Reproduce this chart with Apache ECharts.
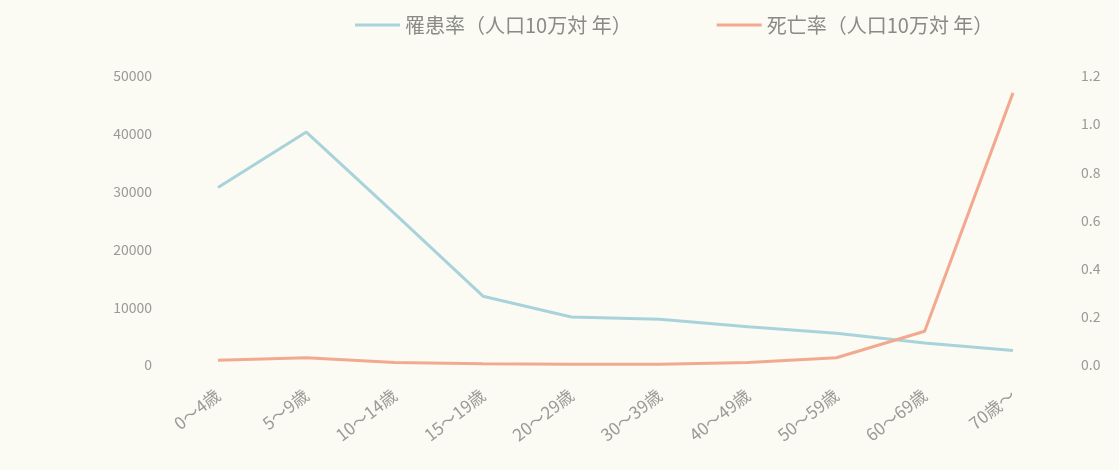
<!DOCTYPE html>
<html><head><meta charset="utf-8">
<script src="https://cdn.jsdelivr.net/npm/echarts@6/dist/echarts.min.js"></script>
<style>html,body{margin:0;padding:0;background:#fbfbf3;}#c{width:1119px;height:470px;}</style>
</head><body><div id="c"></div>
<script>
const categories = ['0～4歳','5～9歳','10～14歳','15～19歳','20～29歳','30～39歳','40～49歳','50～59歳','60～69歳','70歳～'];
const incidenceName = '罹患率（人口10万対 年）';
const mortalityName = '死亡率（人口10万対 年）';
const incidence = [30700, 40300, 26200, 11900, 8300, 7900, 6600, 5500, 3800, 2500];
const mortality = [0.02, 0.03, 0.01, 0.005, 0.003, 0.003, 0.01, 0.03, 0.14, 1.13];
const leftTicks = {min: 0, max: 50000, interval: 10000};
const rightTicks = {min: 0, max: 1.2, interval: 0.2};

const chart = echarts.init(document.getElementById('c'));
const font = '"Noto Sans CJK JP", "Noto Sans", sans-serif';
chart.setOption({
  backgroundColor: '#fbfbf3',
  animation: false,
  textStyle: {fontFamily: font},
  legend: {
    left: 350, top: 10,
    itemWidth: 45, itemHeight: 14, itemGap: 85,
    icon: 'path://M0,6 L45,6 L45,9 L0,9 Z',
    textStyle: {fontSize: 20, color: '#8a8a86', fontFamily: font},
    data: [incidenceName, mortalityName]
  },
  grid: {left: 218, right: 106, top: 76, bottom: 105},
  xAxis: {
    type: 'category', data: categories, boundaryGap: false,
    axisLine: {show: false}, axisTick: {show: false},
    axisLabel: {rotate: 38, fontSize: 17, color: '#9a9a96', margin: 28, interval: 0}
  },
  yAxis: [
    {type: 'value', ...leftTicks, splitLine: {show: false},
     axisLine: {show: false}, axisTick: {show: false},
     axisLabel: {fontSize: 14, color: '#9a9a96', margin: 66, formatter: v => String(v)}},
    {type: 'value', ...rightTicks, splitLine: {show: false},
     axisLine: {show: false}, axisTick: {show: false},
     axisLabel: {fontSize: 14, color: '#9a9a96', margin: 68, formatter: v => v.toFixed(1)}}
  ],
  series: [
    {name: incidenceName, type: 'line', data: incidence, yAxisIndex: 0,
     symbol: 'none', lineStyle: {width: 3, color: '#a9d3da'}, itemStyle: {color: '#a9d3da'}},
    {name: mortalityName, type: 'line', data: mortality, yAxisIndex: 1,
     symbol: 'none', lineStyle: {width: 3, color: '#f3a98f'}, itemStyle: {color: '#f3a98f'}}
  ]
});
</script></body></html>
